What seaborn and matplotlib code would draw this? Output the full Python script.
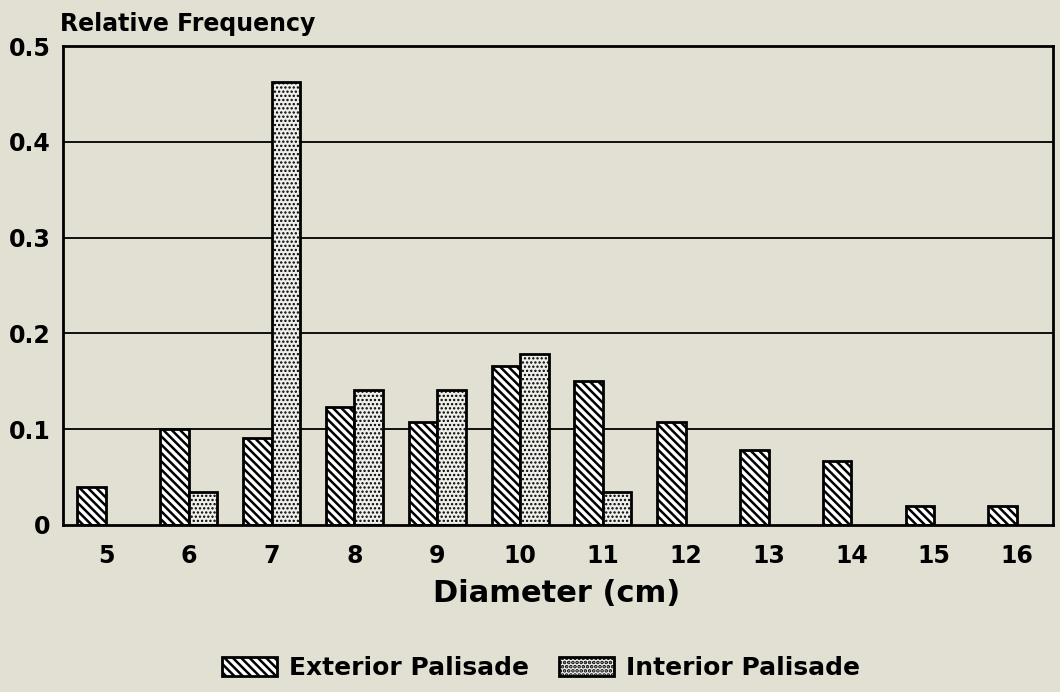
import matplotlib
matplotlib.use("Agg")
import matplotlib.pyplot as plt
import seaborn as sns
import pandas as pd
from matplotlib.patches import Patch

diameters = ["5", "6", "7", "8", "9", "10", "11", "12", "13", "14", "15", "16"]
exterior = [0.040, 0.100, 0.091, 0.123, 0.107, 0.166, 0.150, 0.107, 0.078, 0.067, 0.020, 0.020]
interior = [0.0, 0.034, 0.462, 0.141, 0.141, 0.178, 0.034, 0.0, 0.0, 0.0, 0.0, 0.0]
series = ["Exterior Palisade", "Interior Palisade"]
yticks = [0, 0.1, 0.2, 0.3, 0.4, 0.5]
ytick_labels = ["0", "0.1", "0.2", "0.3", "0.4", "0.5"]

bg = "#e2dfd3"
ext_hatch = "\\\\\\\\"
int_hatch = "...."
sns.set_theme(style="white")
plt.rcParams["font.family"] = ["DejaVu Sans"]
plt.rcParams["font.weight"] = "bold"
plt.rcParams["hatch.linewidth"] = 1.8
plt.rcParams["hatch.color"] = "black"
for k in ["text.color", "axes.labelcolor", "xtick.color", "ytick.color", "axes.edgecolor"]:
    plt.rcParams[k] = "black"

df = pd.DataFrame({
    "Diameter": diameters * 2,
    "Freq": exterior + interior,
    "Series": [series[0]] * len(diameters) + [series[1]] * len(diameters),
})

fig = plt.figure(figsize=(10.6, 6.92), dpi=100, facecolor=bg)
ax = fig.add_axes([63 / 1060, 1 - 525 / 692, (1053 - 63) / 1060, (525 - 46) / 692])
ax.set_facecolor(bg)

sns.barplot(data=df, x="Diameter", y="Freq", hue="Series", order=diameters,
            hue_order=series, width=0.69, ax=ax, legend=False,
            palette=["white", "#eeeeea"], edgecolor="black", linewidth=2,
            saturation=1)

n = len(diameters)
for i, p in enumerate(ax.patches[:2 * n]):
    if i < n:
        p.set_hatch(ext_hatch)
        p.set_facecolor("white")
        if hasattr(p, "set_hatch_linewidth"):
            p.set_hatch_linewidth(1.8)
    else:
        p.set_hatch(int_hatch)
        p.set_facecolor("#eeeeea")
        if hasattr(p, "set_hatch_linewidth"):
            p.set_hatch_linewidth(1.1)
    p.set_edgecolor("black")
    if p.get_height() == 0:
        p.set_visible(False)

ax.set_ylim(0, 0.5)
ax.set_xlim(-0.52, n - 1 + 0.435)
ax.set_yticks(yticks)
ax.set_yticklabels(ytick_labels, fontsize=17, fontweight="bold")
ax.tick_params(axis="x", labelsize=17, pad=14, length=0)
ax.tick_params(axis="y", pad=9, length=0)
for lab in ax.get_xticklabels():
    lab.set_fontweight("bold")
ax.set_xlabel("")
ax.set_ylabel("")
for y in yticks[1:-1]:
    ax.axhline(y, color="black", linewidth=1.3, zorder=0.5)
for s in ax.spines.values():
    s.set_color("black")
    s.set_linewidth(2)
    s.set_visible(True)

fig.text(60 / 1060, 1 - 24 / 692, "Relative Frequency", fontsize=17,
         fontweight="bold", ha="left", va="center")
fig.text(557 / 1060, 1 - 594 / 692, "Diameter (cm)", fontsize=22,
         fontweight="bold", ha="center", va="center")

p_ext = Patch(facecolor="white", edgecolor="black", hatch=ext_hatch, linewidth=2)
p_int = Patch(facecolor="#eeeeea", edgecolor="black", hatch=int_hatch, linewidth=2)
if hasattr(p_int, "set_hatch_linewidth"):
    p_ext.set_hatch_linewidth(1.8)
    p_int.set_hatch_linewidth(1.1)
fig.legend([p_ext, p_int], series, loc="center", bbox_to_anchor=(541 / 1060, 1 - 668 / 692),
           ncol=2, frameon=False, handlelength=2.2, handleheight=0.8,
           columnspacing=1.2, handletextpad=0.5, prop={"weight": "bold", "size": 18})

fig.savefig("out.png", dpi=100, facecolor=bg)
